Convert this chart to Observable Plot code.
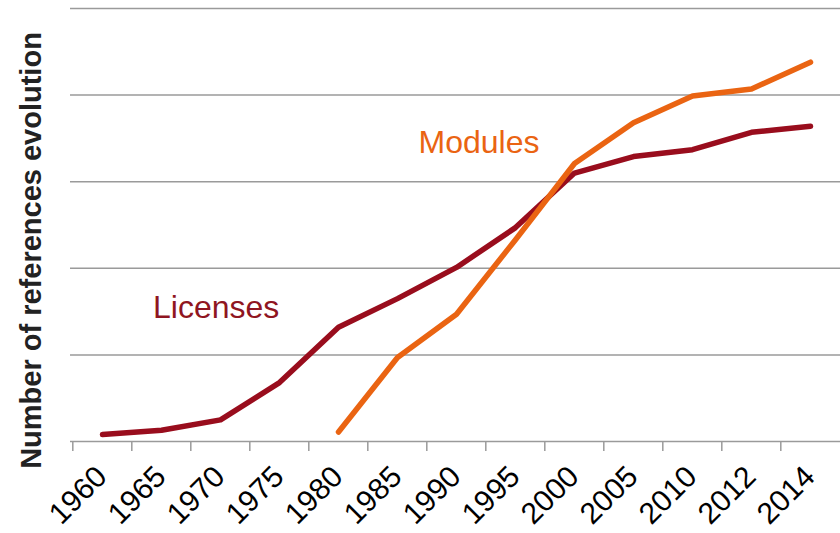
<!DOCTYPE html>
<html><head><meta charset="utf-8">
<script src="https://cdn.jsdelivr.net/npm/d3@7"></script>
<script src="https://cdn.jsdelivr.net/npm/@observablehq/plot@0.6"></script>
<style>body{margin:0;background:#fff} svg{display:block}</style>
</head><body><div id="chart"></div>
<script>
const years = ["1960","1965","1970","1975","1980","1985","1990","1995","2000","2005","2010","2012","2014"];
const licenses = [0.08,0.13,0.25,0.68,1.32,1.65,2.01,2.47,3.10,3.29,3.37,3.57,3.64];
const modules = [null,null,null,null,0.11,0.97,1.47,2.33,3.21,3.68,3.99,4.07,4.38];
const seriesNames = ["Licenses","Modules"];
const gridValues = [0,1,2,3,4,5];
const yTitle = "Number of references evolution";

const rows = [];
years.forEach((y, i) => {
  rows.push({year: y, value: licenses[i], series: "Licenses"});
  if (modules[i] != null) rows.push({year: y, value: modules[i], series: "Modules"});
});

const x0 = 70, x1 = 842;
const step = (x1 - x0) / years.length;
const font = "Liberation Sans, Arial, Helvetica, sans-serif";

const chart = Plot.plot({
  width: 840, height: 533,
  marginLeft: 70, marginRight: 0, marginTop: 8, marginBottom: 92,
  style: {fontFamily: font, background: "#fff"},
  x: {type: "point", domain: years, range: [x0, x1], padding: 0.5, axis: null},
  y: {domain: [0, 5], range: [441, 8], axis: null},
  color: {domain: seriesNames, range: ["#990d1d", "#ea6412"]},
  marks: [
    Plot.ruleY(gridValues, {stroke: "#9a9a9a", strokeWidth: 1.5}),
    Plot.ruleX(years, {x: d => d, y1: 0, y2: 0, dx: -step / 2, insetBottom: -10, stroke: "#9a9a9a", strokeWidth: 1.5}),
    Plot.text(years, {x: d => d, y: 0, text: d => d, rotate: -45, textAnchor: "end", lineAnchor: "bottom", dx: 6, dy: 37, fontSize: 30, fill: "#000"}),
    Plot.line(rows, {x: "year", y: "value", z: "series", stroke: "series", strokeWidth: 5.5, strokeLinecap: "round", strokeLinejoin: "round"}),
    Plot.text([seriesNames[0]], {x: () => "1965", y: () => 1.43, text: d => d, textAnchor: "start", lineAnchor: "bottom", dx: -8.5, fontSize: 32, fill: "#8f1521"}),
    Plot.text([seriesNames[1]], {x: () => "1985", y: () => 3.33, text: d => d, textAnchor: "start", lineAnchor: "bottom", dx: 21, fontSize: 32, fill: "#ea6412"}),
    Plot.text([yTitle], {frameAnchor: "left", dx: -30, dy: 25.5, rotate: -90, textAnchor: "middle", lineAnchor: "bottom", fontWeight: "bold", fontSize: 29, fill: "#222"})
  ]
});
document.getElementById("chart").appendChild(chart);
</script>
</body></html>
